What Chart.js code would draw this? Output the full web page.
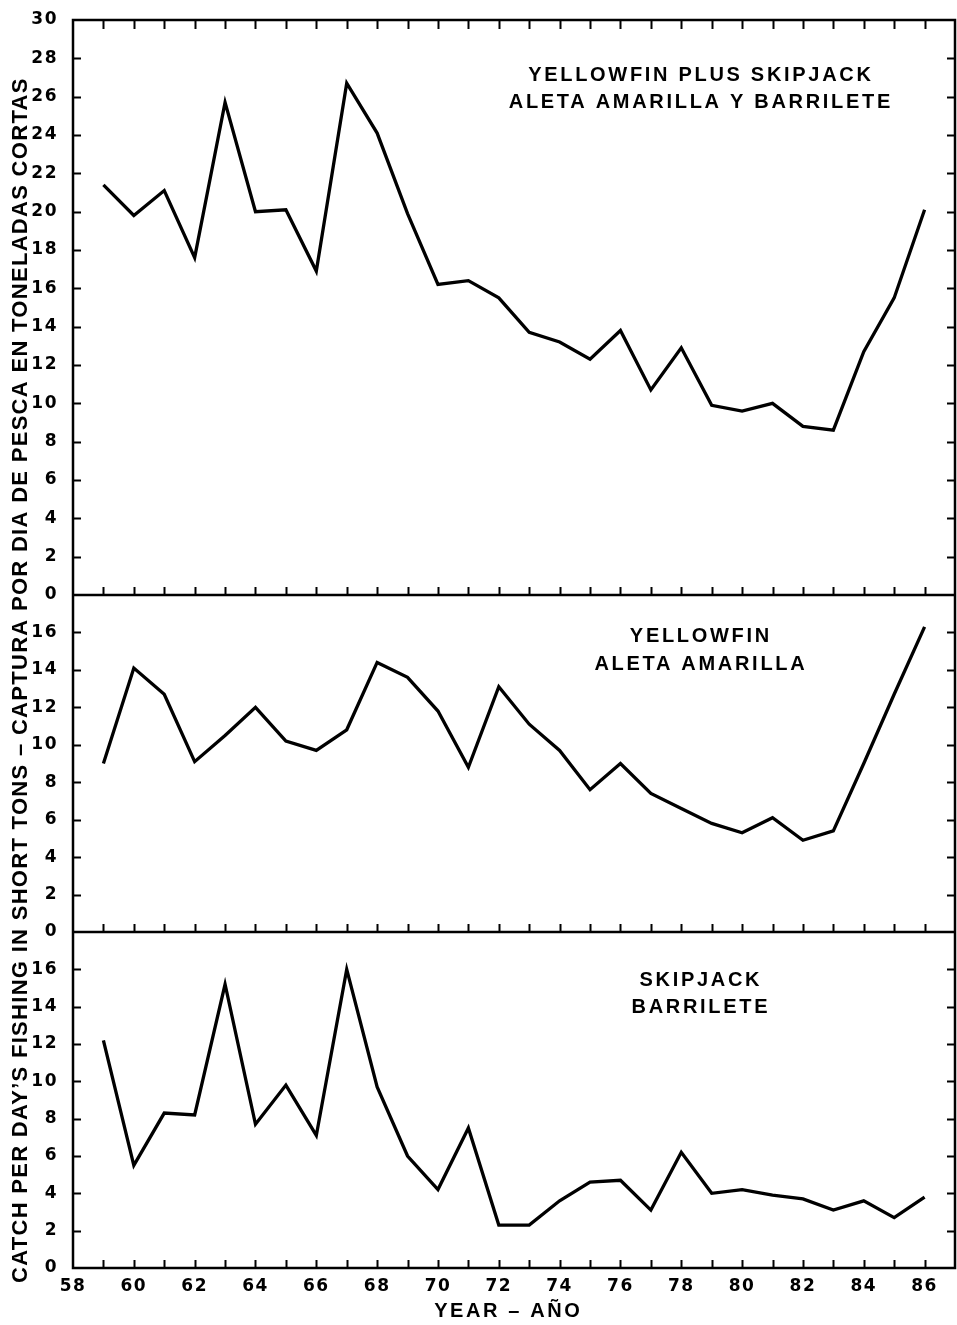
<!DOCTYPE html>
<html>
<head>
<meta charset="utf-8">
<script src="https://cdn.jsdelivr.net/npm/chart.js@4.4.1/dist/chart.umd.min.js"></script>
<style>
  html, body { margin: 0; padding: 0; background: #fff; }
  #wrap { position: relative; width: 957px; height: 1325px; }
</style>
</head>
<body>
<div id="wrap"><canvas id="cpue"></canvas></div>
<script>
// Catch per day's fishing (short tons), 1959-1986
const YEARS = [59, 60, 61, 62, 63, 64, 65, 66, 67, 68, 69, 70, 71, 72, 73, 74, 75, 76, 77, 78, 79, 80, 81, 82, 83, 84, 85, 86];
const TOTAL_CPUE = [21.4, 19.8, 21.1, 17.6, 25.7, 20.0, 20.1, 16.9, 26.7, 24.1, 19.9, 16.2, 16.4, 15.5, 13.7, 13.2, 12.3, 13.8, 10.7, 12.9, 9.9, 9.6, 10.0, 8.8, 8.6, 12.7, 15.5, 20.1];
const YELLOWFIN_CPUE = [9.0, 14.1, 12.7, 9.1, 10.5, 12.0, 10.2, 9.7, 10.8, 14.4, 13.6, 11.8, 8.8, 13.1, 11.1, 9.7, 7.6, 9.0, 7.4, 6.6, 5.8, 5.3, 6.1, 4.9, 5.4, 9.0, 12.7, 16.3];
const SKIPJACK_CPUE = [12.2, 5.5, 8.3, 8.2, 15.2, 7.7, 9.8, 7.1, 16.0, 9.7, 6.0, 4.2, 7.5, 2.3, 2.3, 3.6, 4.6, 4.7, 3.1, 6.2, 4.0, 4.2, 3.9, 3.7, 3.1, 3.6, 2.7, 3.8];

const YEAR_LABELS = [58, 60, 62, 64, 66, 68, 70, 72, 74, 76, 78, 80, 82, 84, 86];
const TOTAL_TICKS = [0, 2, 4, 6, 8, 10, 12, 14, 16, 18, 20, 22, 24, 26, 28, 30];
const SPECIES_TICKS = [0, 2, 4, 6, 8, 10, 12, 14, 16];

const PANEL_TITLES = {
  yTotal: ["YELLOWFIN PLUS SKIPJACK", "ALETA AMARILLA Y BARRILETE"],
  yYel: ["YELLOWFIN", "ALETA AMARILLA"],
  ySkip: ["SKIPJACK", "BARRILETE"],
};
const Y_TITLE = "CATCH PER DAY\u2019S FISHING IN SHORT TONS \u2013 CAPTURA POR DIA DE PESCA EN TONELADAS CORTAS";
const X_TITLE = "YEAR \u2013 A\u00d1O";

const FONT = "'Liberation Sans', Arial, Helvetica, sans-serif";
const NUM_FONT = "'DejaVu Sans', Verdana, sans-serif";
const INK = "#000";
const TICK_FONT = { family: NUM_FONT, size: 17, weight: "bold" };

function points(values) {
  return YEARS.map((yr, i) => ({ x: yr, y: values[i] }));
}

function panelAxis(max, ticks, weight) {
  return {
    type: "linear",
    position: "left",
    stack: "panels",
    stackWeight: weight,
    min: 0,
    max,
    afterBuildTicks: (s) => { s.ticks = ticks.map((v) => ({ value: v })); },
    afterFit: (s) => { s.width = 73; },
    grid: { display: false },
    border: { display: false },
    ticks: { color: INK, padding: 7, autoSkip: false, font: TICK_FONT },
  };
}

function lineSet(values, axis) {
  return {
    data: points(values),
    yAxisID: axis,
    borderColor: INK,
    borderWidth: 3.3,
    pointRadius: 0,
    tension: 0,
    fill: false,
  };
}

function spacedText(ctx, text, x, y, spacing) {
  ctx.letterSpacing = spacing.toFixed(1) + "px";
  ctx.fillText(text, x + spacing / 2, y);
}

// frame, panel dividers, inward tick marks and all caption text
const panelFrame = {
  id: "panelFrame",
  beforeDraw(chart) {
    chart.ctx.letterSpacing = "1.5px";
  },
  afterDraw(chart) {
    const { ctx, chartArea: a, scales } = chart;
    const xs = scales.x;
    const panels = ["yTotal", "yYel", "ySkip"];
    ctx.save();
    ctx.strokeStyle = INK;
    ctx.fillStyle = INK;

    ctx.lineWidth = 2.5;
    ctx.strokeRect(a.left, a.top, a.right - a.left, a.bottom - a.top);
    ctx.beginPath();
    ["yYel", "ySkip"].forEach((id) => {
      const y = scales[id].top;
      ctx.moveTo(a.left, y);
      ctx.lineTo(a.right, y);
    });
    ctx.stroke();

    ctx.lineWidth = 2;
    ctx.beginPath();
    panels.forEach((id) => {
      const s = scales[id];
      s.ticks.forEach((t) => {
        if (t.value <= s.min || t.value >= s.max) return;
        const py = Math.round(s.getPixelForValue(t.value)) + 0.5;
        ctx.moveTo(a.left, py);
        ctx.lineTo(a.left + 8, py);
        ctx.moveTo(a.right - 8, py);
        ctx.lineTo(a.right, py);
      });
    });
    for (let yr = Math.ceil(xs.min) + 1; yr < xs.max; yr++) {
      const px = Math.round(xs.getPixelForValue(yr)) + 0.5;
      panels.forEach((id) => {
        const b = scales[id].bottom;
        ctx.moveTo(px, b);
        ctx.lineTo(px, b - 8);
      });
      ctx.moveTo(px, a.top);
      ctx.lineTo(px, a.top + 9);
    }
    ctx.stroke();

    // panel captions
    ctx.textAlign = "center";
    ctx.textBaseline = "middle";
    ctx.font = "bold 20px " + FONT;
    const cx = xs.getPixelForValue(78.6);
    const offsets = { yTotal: [55, 82], yYel: [41, 69], ySkip: [48, 75] };
    panels.forEach((id) => {
      const top = scales[id].top;
      PANEL_TITLES[id].forEach((line, i) => spacedText(ctx, line, cx, top + offsets[id][i], 2.7));
    });

    // x axis title
    spacedText(ctx, X_TITLE, 507, 1311, 2.6);

    // y axis title, read bottom to top from the lower panel
    ctx.font = "bold 22px " + FONT;
    ctx.textAlign = "left";
    ctx.letterSpacing = "1.3px";
    ctx.translate(21, 1283);
    ctx.rotate(-Math.PI / 2);
    ctx.fillText(Y_TITLE, 0, 0);
    ctx.restore();
  },
};

new Chart(document.getElementById("cpue"), {
  type: "line",
  data: {
    datasets: [
      lineSet(SKIPJACK_CPUE, "ySkip"),
      lineSet(YELLOWFIN_CPUE, "yYel"),
      lineSet(TOTAL_CPUE, "yTotal"),
    ],
  },
  options: {
    responsive: true,
    maintainAspectRatio: false,
    animation: false,
    events: [],
    layout: { padding: { top: 20, right: 2, left: 0, bottom: 0 } },
    plugins: { legend: { display: false }, tooltip: { enabled: false } },
    scales: {
      x: {
        type: "linear",
        min: 58,
        max: 87,
        afterBuildTicks: (s) => { s.ticks = YEAR_LABELS.map((v) => ({ value: v })); },
        afterFit: (s) => { s.height = 57; },
        grid: { display: false },
        border: { display: false },
        ticks: { color: INK, padding: 0, maxRotation: 0, autoSkip: false, font: TICK_FONT },
      },
      // listed bottom to top: the layout stacks the last one highest
      ySkip: panelAxis(18, SPECIES_TICKS, 336),
      yYel: panelAxis(18, SPECIES_TICKS, 337),
      yTotal: panelAxis(30, TOTAL_TICKS, 575),
    },
  },
  plugins: [panelFrame],
});
</script>
</body>
</html>
